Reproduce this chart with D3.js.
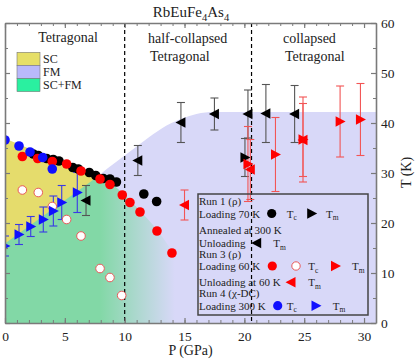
<!DOCTYPE html>
<html><head><meta charset="utf-8">
<script src="https://cdn.jsdelivr.net/npm/d3@7"></script>
<style>
body{margin:0;background:#fff;}
svg{display:block;font-family:"Liberation Serif","Times New Roman",serif;}
</style></head>
<body>
<svg id="c" width="415" height="360"></svg>
<script>
// ---------- data (P in GPa, T in K, err in K) ----------
const P_TICKS = [0, 5, 10, 15, 20, 25, 30];
const T_TICKS = [0, 10, 20, 30, 40, 50, 60];
const phaseBoundaries = [10, 20.6];
const phaseNames = [["Tetragonal"], ["half-collapsed", "Tetragonal"], ["collapsed", "Tetragonal"]];
const regionLegend = ["SC", "FM", "SC+FM"];

// shaded-region boundaries
const scTop = [[0, 36.9], [7.7, 29.2]];
const tmLine = [[0, 15.9], [7.7, 29.2]];
const scDome = [[7.7, 29.2], [10, 25.6], [11.3, 22.4], [12.7, 18.6], [14, 14.2], [15.2, 9], [16.3, 3], [16.8, 0]];
const fmTop = [[7.7, 29.2], [8.5, 30.8], [9.5, 32.6], [10.5, 34.4], [12, 37.1], [13.5, 39.5], [14.8, 40.9], [16, 41.8], [17.5, 42.2], [31, 42.2]];

// Run 1 (rho)
const run1Tc = [[2.36, 33.8], [2.78, 33.5], [3.48, 32.9], [4.03, 32.7], [4.51, 32.4], [5.66, 31.1], [6.12, 30.8], [7.04, 30.1], [7.58, 29.5], [8.21, 28.9], [8.77, 28.8], [9.31, 28.2], [11.6, 25.8], [12.67, 24.3]];
const run1TmLoad = [[20.05, 33.1, 3.8]];
const run1TmUnload = [[6.77, 24.5, 3], [11.1, 32.5, 3], [14.7, 40.1, 4], [17.5, 41.8, 3.2], [20.3, 41.8, 4.8], [21.8, 41.9, 5.8], [24.2, 41.8, 5.7]];
// Run 3 (rho)
const run3Tc = [[1.45, 33.3], [2.73, 32.9], [3.95, 32.3], [5.15, 31.8], [6.35, 30.4], [7.94, 28.8], [8.77, 27.7], [9.8, 25.6], [10.44, 24.1], [11.28, 22.2], [12.7, 18.4], [13.95, 14.0]];
const run3TcOpen = [[1.45, 26.6], [2.78, 26.1], [3.95, 23.3], [5.15, 20.7], [6.35, 17.4], [7.94, 10.9], [8.77, 9.1], [9.75, 5.5]];
const run3TmLoad = [[20.3, 31.8, 7.5], [22.6, 33.7, 7.4], [24.9, 36.7, 8.5], [28.0, 40.3, 7.1], [29.7, 40.7, 7.2]];
const run3TmUnload = [[15.0, 23.6, 3], [20.5, 30.7, 6], [24.9, 36.6, 7.3]];
// Run 4 (chi-DC)
const run4Tc = [[0, 36.6], [1.17, 35.4], [2.09, 34.2], [3.15, 33.1], [3.95, 30.8]];
const run4Tm = [[0, 15.4, 2], [1.17, 17.7, 2], [2.15, 19.3, 2], [3.2, 20.7, 2.5], [4.04, 22.4, 3], [4.74, 24.1, 3.4], [6.04, 26.1, 4]];

// ---------- drawing ----------
const svg = d3.select("#c");
const L = 5, R = 376, TOP = 23, B = 323;
const x = d3.scaleLinear().domain([0, 31]).range([L, R]);
const y = d3.scaleLinear().domain([0, 60]).range([B, TOP]);

const COL = {yellow: "#e5dc6c", lav: "#d8d8f8", green: "#82d8a6", axis: "#7a7a7a"};

const defs = svg.append("defs");
defs.append("clipPath").attr("id", "plotclip").append("rect")
  .attr("x", L).attr("y", TOP).attr("width", R - L).attr("height", B - TOP);
const grad = defs.append("linearGradient").attr("id", "gfade")
  .attr("gradientUnits", "userSpaceOnUse")
  .attr("x1", x(7.9)).attr("x2", x(14.2)).attr("y1", 0).attr("y2", 0);
grad.append("stop").attr("offset", 0).attr("stop-color", COL.green);
grad.append("stop").attr("offset", 1).attr("stop-color", COL.lav);

const plot = svg.append("g").attr("clip-path", "url(#plotclip)");
const line = d3.line().x(d => x(d[0])).y(d => y(d[1]));
const lineC = d3.line().x(d => x(d[0])).y(d => y(d[1])).curve(d3.curveMonotoneX);

// FM region
const fmPoly = [[0, 0], ...tmLine, ...fmTop.slice(1), [31, 0]];
plot.append("path").attr("d", lineC(fmPoly)).attr("fill", COL.lav);
// SC+FM region (fading)
const gPoly = [[0, 0], ...tmLine, ...scDome.slice(1), [0, 0]];
plot.append("path").attr("d", lineC(gPoly)).attr("fill", "url(#gfade)");
// SC region
const scPoly = [...tmLine, scTop[1], scTop[0]];
plot.append("path").attr("d", line(scPoly) + "Z").attr("fill", COL.yellow);

// dashed phase boundaries
plot.selectAll("line.pb").data(phaseBoundaries).join("line")
  .attr("x1", d => x(d)).attr("x2", d => x(d)).attr("y1", TOP).attr("y2", B)
  .attr("stroke", "#000").attr("stroke-width", 1.2).attr("stroke-dasharray", "4,3");

// error bars
function errBars(data, color) {
  const g = plot.append("g").attr("stroke", color).attr("stroke-width", 1.1).attr("fill", "none");
  data.forEach(d => {
    const cx = x(d[0]), y1 = y(d[1] + d[2]), y2 = y(d[1] - d[2]);
    g.append("line").attr("x1", cx).attr("x2", cx).attr("y1", y1).attr("y2", y2);
    g.append("line").attr("x1", cx - 4).attr("x2", cx + 4).attr("y1", y1).attr("y2", y1);
    g.append("line").attr("x1", cx - 4).attr("x2", cx + 4).attr("y1", y2).attr("y2", y2);
  });
}
const triR = "M-4.5,-5.2L5.5,0L-4.5,5.2Z";
const triL = "M4.5,-5.2L-5.5,0L4.5,5.2Z";
function tris(data, color, path) {
  plot.append("g").selectAll("path").data(data).join("path")
    .attr("d", path).attr("fill", color)
    .attr("transform", d => `translate(${x(d[0])},${y(d[1])})`);
}
function dots(data, fill, stroke, r) {
  plot.append("g").selectAll("circle").data(data).join("circle")
    .attr("cx", d => x(d[0])).attr("cy", d => y(d[1])).attr("r", r)
    .attr("fill", fill).attr("stroke", stroke).attr("stroke-width", stroke === "none" ? 0 : 1);
}

errBars(run1TmUnload, "#555");
errBars(run1TmLoad, "#555");
errBars(run3TmLoad, "#f25555");
errBars(run3TmUnload, "#f25555");
errBars(run4Tm, "#3a3ae6");

dots(run3TcOpen, "#fff", "#e85a5a", 4.3);
dots(run1Tc, "#000", "none", 4.8);
dots(run3Tc, "#ff0000", "none", 4.8);
dots(run4Tc, "#1010ff", "none", 4.8);
tris(run4Tm, "#1010ff", triR);
tris(run1TmUnload, "#000", triL);
tris(run1TmLoad, "#000", triR);
tris(run3TmLoad, "#ff0000", triR);
tris(run3TmUnload, "#ff0000", triL);

// ---------- axes ----------
function styleAxis(g) {
  g.selectAll(".domain").attr("stroke", COL.axis).attr("stroke-width", 1.6);
  g.selectAll(".tick line").attr("stroke", COL.axis).attr("stroke-width", 1.2);
  g.selectAll("text").attr("fill", "#222").style("font-family", "Liberation Serif").style("font-size", "13.5px");
}
const pMinor = d3.range(0, 31.01, 1);
const tMinor = d3.range(0, 60.01, 5);
// bottom
const gb = svg.append("g").attr("transform", `translate(0,${B})`)
  .call(d3.axisBottom(x).tickValues(P_TICKS).tickSizeInner(-5).tickSizeOuter(0).tickPadding(8).tickFormat(d3.format("d")));
styleAxis(gb);
svg.append("g").attr("transform", `translate(0,${B})`)
  .call(d3.axisBottom(x).tickValues(pMinor).tickSizeInner(-3).tickSizeOuter(0).tickFormat(""))
  .call(g => { g.select(".domain").remove(); g.selectAll("line").attr("stroke", COL.axis); });
// top
const gt = svg.append("g").attr("transform", `translate(0,${TOP})`)
  .call(d3.axisTop(x).tickValues(P_TICKS).tickSizeInner(-5).tickSizeOuter(0).tickFormat(""));
styleAxis(gt);
svg.append("g").attr("transform", `translate(0,${TOP})`)
  .call(d3.axisTop(x).tickValues(pMinor).tickSizeInner(-3).tickSizeOuter(0).tickFormat(""))
  .call(g => { g.select(".domain").remove(); g.selectAll("line").attr("stroke", COL.axis); });
// right
const gr = svg.append("g").attr("transform", `translate(${R},0)`)
  .call(d3.axisRight(y).tickValues(T_TICKS).tickSizeInner(-5).tickSizeOuter(0).tickPadding(5).tickFormat(d3.format("d")));
styleAxis(gr);
svg.append("g").attr("transform", `translate(${R},0)`)
  .call(d3.axisRight(y).tickValues(tMinor).tickSizeInner(-3).tickSizeOuter(0).tickFormat(""))
  .call(g => { g.select(".domain").remove(); g.selectAll("line").attr("stroke", COL.axis); });
// left
const gl = svg.append("g").attr("transform", `translate(${L},0)`)
  .call(d3.axisLeft(y).tickValues(T_TICKS).tickSizeInner(-5).tickSizeOuter(0).tickFormat(""));
styleAxis(gl);
svg.append("g").attr("transform", `translate(${L},0)`)
  .call(d3.axisLeft(y).tickValues(tMinor).tickSizeInner(-3).tickSizeOuter(0).tickFormat(""))
  .call(g => { g.select(".domain").remove(); g.selectAll("line").attr("stroke", COL.axis); });

// axis titles
svg.append("text").attr("x", 190.5).attr("y", 355).attr("text-anchor", "middle")
  .attr("font-size", 14).attr("fill", "#222").text("P (GPa)");
svg.append("text").attr("transform", "translate(411,172.5) rotate(-90)").attr("text-anchor", "middle")
  .attr("font-size", 14).attr("fill", "#222").text("T (K)");

// title with subscripts
const title = svg.append("text").attr("x", 191).attr("y", 17).attr("text-anchor", "middle")
  .attr("font-size", 15).attr("fill", "#222");
title.append("tspan").text("RbEuFe");
title.append("tspan").attr("font-size", 10.5).attr("dy", 3.5).text("4");
title.append("tspan").attr("dy", -3.5).text("As");
title.append("tspan").attr("font-size", 10.5).attr("dy", 3.5).text("4");

// phase names
const phaseText = svg.append("g").attr("font-size", 14).attr("fill", "#222");
phaseText.append("text").attr("x", 68).attr("y", 42).attr("text-anchor", "middle").text(phaseNames[0][0]);
phaseText.append("text").attr("x", 148).attr("y", 43).text(phaseNames[1][0]);
phaseText.append("text").attr("x", 150).attr("y", 61).text(phaseNames[1][1]);
phaseText.append("text").attr("x", 283).attr("y", 43).text(phaseNames[2][0]);
phaseText.append("text").attr("x", 285).attr("y", 61).text(phaseNames[2][1]);

// region legend
const swCols = ["#e6df67", "#b9b9fb", "#2af0a0"];
regionLegend.forEach((t, i) => {
  const yy = 52.3 + i * 13.1;
  svg.append("rect").attr("x", 17).attr("y", yy).attr("width", 23).attr("height", 13.1)
    .attr("fill", swCols[i]).attr("stroke", "#777").attr("stroke-width", 0.6);
  svg.append("text").attr("x", 43).attr("y", yy + 10.5).attr("font-size", 12).attr("fill", "#222").text(t);
});

// data legend box
svg.append("rect").attr("x", 198).attr("y", 194).attr("width", 170).attr("height", 121)
  .attr("fill", "none").attr("stroke", "#444").attr("stroke-width", 1.5);
const lg = svg.append("g").attr("font-size", 11).attr("fill", "#222");
function ltext(xp, yp, s) { lg.append("text").attr("x", xp).attr("y", yp).text(s); }
function lT(xp, yp, sub) {
  const t = lg.append("text").attr("x", xp).attr("y", yp);
  t.append("tspan").text("T");
  t.append("tspan").attr("font-size", 7.5).attr("dy", 2.5).text(sub);
}
function lDot(xp, yp, fill, stroke) {
  svg.append("circle").attr("cx", xp).attr("cy", yp).attr("r", stroke ? 4.2 : 4.6)
    .attr("fill", fill).attr("stroke", stroke || "none").attr("stroke-width", 1);
}
function lTri(xp, yp, fill, path) {
  svg.append("path").attr("d", path).attr("fill", fill).attr("transform", `translate(${xp},${yp})`);
}
ltext(199, 205, "Run 1 (ρ)");
ltext(199, 217.5, "Loading 70 K"); lDot(271.7, 213.5, "#000"); lT(286.7, 217.5, "c"); lTri(311.7, 213.5, "#000", triR); lT(326, 217.5, "m");
ltext(199, 233.5, "Annealed at 300 K");
ltext(199, 247, "Unloading"); lTri(256.7, 243, "#000", triL); lT(273.3, 247, "m");
ltext(199, 257.5, "Run 3 (ρ)");
ltext(199, 270, "Loading 60 K"); lDot(272.3, 266, "#ff0000"); lDot(296, 266, "#fff", "#e85a5a"); lT(308.3, 270, "c"); lTri(335.5, 266, "#ff0000", triR); lT(352, 270, "m");
ltext(199, 286, "Unloading at 60 K"); lTri(291, 282.3, "#ff0000", triL); lT(308.3, 286, "m");
ltext(199, 296.5, "Run 4 (χ-DC)");
ltext(199, 309.5, "Loading 300 K"); lDot(277.7, 305.7, "#1010ff"); lT(286.7, 309.5, "c"); lTri(316, 305.7, "#1010ff", triR); lT(332.7, 309.5, "m");
</script>
</body></html>
